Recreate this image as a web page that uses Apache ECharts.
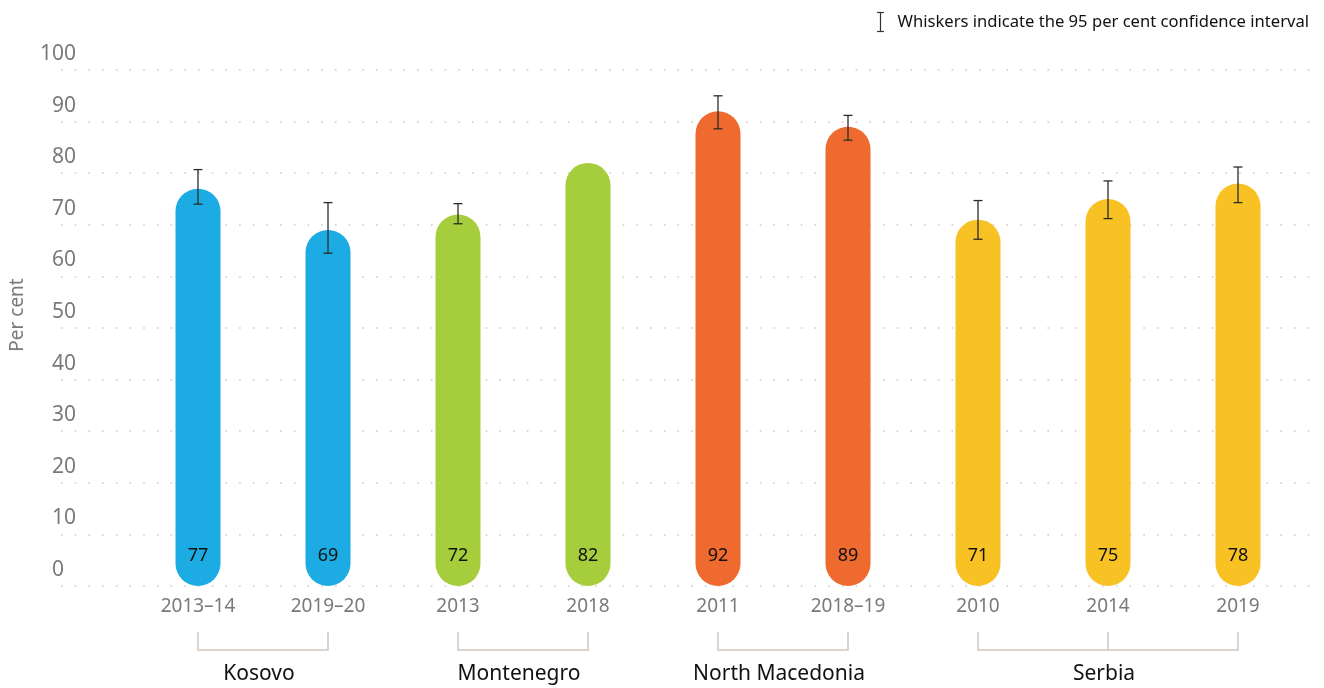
<!DOCTYPE html>
<html>
<head>
<meta charset="utf-8">
<script src="https://cdn.jsdelivr.net/npm/echarts@6/dist/echarts.min.js"></script>
<style>
  html, body { margin: 0; padding: 0; background: #fff; }
  #chart { width: 1324px; height: 688px; }
</style>
</head>
<body>
<div id="chart"></div>
<script>
// survey rounds
const categories = ['2013–14', '2019–20', '2013', '2018', '2011', '2018–19', '2010', '2014', '2019']
const values = [77, 69, 72, 82, 92, 89, 71, 75, 78]
// 95% CI, null where none shown
const ciLow = [74.0, 64.5, 70.2, null, 88.6, 86.4, 67.2, 71.2, 74.3]
const ciHigh = [80.7, 74.3, 74.1, null, 95.0, 91.2, 74.7, 78.5, 81.2]
const countries = ['Kosovo', 'Montenegro', 'North Macedonia', 'Serbia']
const countryOf = [0, 0, 1, 1, 2, 2, 3, 3, 3]
const countryColors = ['#1cabe2', '#a6cd3c', '#ee6a2f', '#f8c224']
const yTicks = [0, 10, 20, 30, 40, 50, 60, 70, 80, 90, 100]

const FONT = 'Noto Sans'

const chart = echarts.init(document.getElementById('chart'))

// bracket groups built from countryOf
const groups = countries.map((name, g) => {
  const idx = countryOf.map((c, i) => c === g ? i : -1).filter(i => i >= 0)
  return [idx[0], idx[idx.length - 1], name]
})

const option = {
  animation: false,
  textStyle: { fontFamily: FONT },
  grid: [
    { left: 52, right: 14, top: 70, bottom: 102 },
    { left: 133, right: 21, top: 70, bottom: 102 }
  ],
  xAxis: [
    { type: 'value', gridIndex: 0, show: false, min: 0, max: 1 },
    {
      type: 'category',
      gridIndex: 1,
      data: categories,
      axisLine: { show: false },
      axisTick: { show: false },
      axisLabel: { color: '#7a7a7a', fontSize: 19, margin: 11, fontFamily: FONT }
    }
  ],
  yAxis: [
    {
      type: 'value',
      gridIndex: 0,
      min: 0,
      max: 100,
      interval: 10,
      name: 'Per cent',
      nameLocation: 'middle',
      nameGap: 34,
      nameTextStyle: { color: '#7a7a7a', fontSize: 19, fontFamily: FONT, padding: [0, 0, 0, 26] },
      axisLine: { show: false },
      axisTick: { show: false },
      axisLabel: {
        inside: true,
        align: 'right',
        margin: 24,
        verticalAlign: 'bottom',
        lineHeight: 32,
        color: '#7a7a7a',
        fontSize: 21,
        fontFamily: FONT,
        padding: [0, 9, 0, 0],
        formatter: v => !yTicks.includes(v) ? '' : (v === 0 ? '{z|0}' : String(v)),
        rich: {
          z: { color: '#7a7a7a', fontSize: 21, fontFamily: FONT, lineHeight: 32, padding: [0, 12, 0, 0] }
        }
      },
      splitLine: { lineStyle: { color: '#cfcac4', width: 1.6, type: [1.6, 12.1] } }
    },
    { type: 'value', gridIndex: 1, min: 0, max: 100, show: false }
  ],
  graphic: [
    {
      type: 'group',
      right: 15,
      top: 10,
      children: [
        { type: 'line', shape: { x1: 0, y1: 1, x2: 0, y2: 20 }, style: { stroke: '#333', lineWidth: 1.2 } },
        { type: 'line', shape: { x1: -3.5, y1: 1, x2: 3.5, y2: 1 }, style: { stroke: '#333', lineWidth: 1.2 } },
        { type: 'line', shape: { x1: -3.5, y1: 20, x2: 3.5, y2: 20 }, style: { stroke: '#333', lineWidth: 1.2 } },
        {
          type: 'text', x: 17, y: 10.5,
          style: {
            text: 'Whiskers indicate the 95 per cent confidence interval',
            font: '16.6px "Noto Sans"', fill: '#111', verticalAlign: 'middle'
          }
        }
      ]
    }
  ],
  series: [
    {
      type: 'bar',
      xAxisIndex: 1,
      yAxisIndex: 1,
      barWidth: 45,
      data: values.map((v, i) => ({ value: v, itemStyle: { color: countryColors[countryOf[i]] } })),
      itemStyle: { borderRadius: 22.5 },
      label: {
        show: true,
        position: 'insideBottom',
        distance: 21,
        color: '#111',
        fontSize: 18,
        fontFamily: FONT
      }
    },
    {
      type: 'custom',
      xAxisIndex: 1,
      yAxisIndex: 1,
      data: categories.map((c, i) => [i, ciLow[i], ciHigh[i]]).filter(d => d[1] != null),
      renderItem: (params, api) => {
        const lo = api.coord([api.value(0), api.value(1)])
        const hi = api.coord([api.value(0), api.value(2)])
        const w = 4.5
        const st = { stroke: '#2b2b2b', lineWidth: 1.3 }
        return {
          type: 'group',
          children: [
            { type: 'line', shape: { x1: lo[0], y1: lo[1], x2: hi[0], y2: hi[1] }, style: st },
            { type: 'line', shape: { x1: lo[0] - w, y1: lo[1], x2: lo[0] + w, y2: lo[1] }, style: st },
            { type: 'line', shape: { x1: hi[0] - w, y1: hi[1], x2: hi[0] + w, y2: hi[1] }, style: st }
          ]
        }
      },
      z: 5
    },
    {
      type: 'custom',
      xAxisIndex: 1,
      yAxisIndex: 1,
      clip: false,
      silent: true,
      data: groups,
      renderItem: (params, api) => {
        const s = api.value(0), e = api.value(1)
        const p0 = api.coord([s, 0])
        const p1 = api.coord([e, 0])
        const base = p0[1]
        const st = { stroke: '#dcd4cc', lineWidth: 2 }
        const children = [
          { type: 'line', shape: { x1: p0[0] - 1, y1: base + 64, x2: p1[0] + 1, y2: base + 64 }, style: st }
        ]
        for (let k = s; k <= e; k++) {
          const p = api.coord([k, 0])
          children.push({ type: 'line', shape: { x1: p[0], y1: base + 46, x2: p[0], y2: base + 64 }, style: st })
        }
        children.push({
          type: 'text', x: (p0[0] + p1[0]) / 2 - 4, y: base + 88,
          style: {
            text: groups[params.dataIndex][2], font: '21px "Noto Sans"', fill: '#111',
            align: 'center', verticalAlign: 'middle'
          }
        })
        return { type: 'group', children }
      }
    }
  ]
}

chart.setOption(option)
</script>
</body>
</html>
